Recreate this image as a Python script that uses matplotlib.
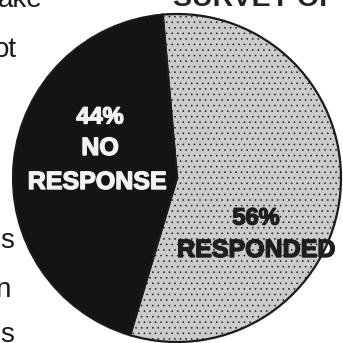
import matplotlib
matplotlib.use("Agg")
import matplotlib.pyplot as plt
import matplotlib.patheffects as pe

plt.rcParams['font.family'] = ['Liberation Sans', 'DejaVu Sans']
plt.rcParams['hatch.color'] = "#9a9a9a"
plt.rcParams['hatch.linewidth'] = 0.4

# Data
categories = ["RESPONDED", "NO RESPONSE"]
shares = [56, 44]
pct_labels = ["56%", "44%"]
colors = ["#cbcbcb", "#141414"]
text_colors = ["#1e1e1e", "#f2f2f2"]
side_words = ["ake", "ot", "s", "n", "s"]
title_fragment = "SURVEY OF"

W = H = 343
fig = plt.figure(figsize=(3.43, 3.43), dpi=100)
fig.patch.set_facecolor("white")
ax = fig.add_axes([0, 0, 1, 1])

wedges, _ = ax.pie(shares, colors=colors, startangle=95, counterclock=False,
                   center=(177, H - 178), radius=164,
                   wedgeprops=dict(edgecolor="#1a1a1a", linewidth=1.6))
wedges[0].set_hatch("...")

ax.set_xlim(0, W)
ax.set_ylim(0, H)
ax.set_aspect("equal")
ax.axis("off")

def heavy(color):
    return [pe.withStroke(linewidth=1.0, foreground=color)]

# Labels inside wedges
ax.text(256, H - 218, pct_labels[0], ha="center", va="center",
        fontsize=17, fontweight="bold", color=text_colors[0],
        path_effects=heavy(text_colors[0]))
ax.text(256, H - 250, categories[0], ha="center", va="center",
        fontsize=18, fontweight="bold", color=text_colors[0],
        path_effects=heavy(text_colors[0]))
ax.text(100, H - 117, pct_labels[1], ha="center", va="center",
        fontsize=17, fontweight="bold", color=text_colors[1],
        path_effects=heavy(text_colors[1]))
ax.text(100, H - 148, "NO", ha="center", va="center",
        fontsize=18, fontweight="bold", color=text_colors[1],
        path_effects=heavy(text_colors[1]))
ax.text(97, H - 182, "RESPONSE", ha="center", va="center",
        fontsize=18, fontweight="bold", color=text_colors[1],
        path_effects=heavy(text_colors[1]))

# Surrounding page text fragments (partly cut by the page crop, as in the scan)
side_pos = [(-2, 7), (-6, 57), (0, 248), (-5, 297), (0, 342)]
for word, (x, y) in zip(side_words, side_pos):
    ax.text(x, H - y, word, ha="left", va="baseline", fontsize=20,
            color="#1a1a1a", clip_on=False)
ax.text(173, H - 6, title_fragment, ha="left", va="baseline", fontsize=20.5,
        fontweight="bold", color="#222222", clip_on=False)

fig.savefig("out.png", dpi=100, facecolor="white")
